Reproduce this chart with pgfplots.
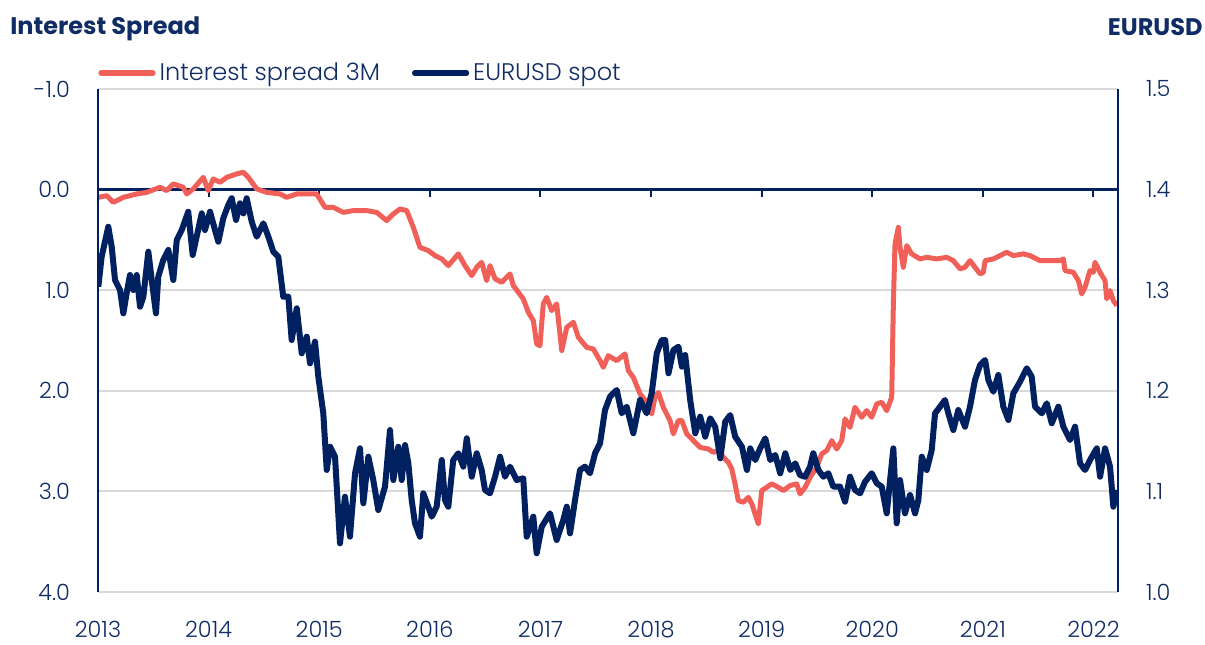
\documentclass[border=0pt]{standalone}
\usepackage{fontspec}
\usepackage{pgfplots}
\pgfplotsset{compat=1.18}
\newfontfamily\popreg{Poppins}
\IfFontExistsTF{Poppins Light}{\setmainfont{Poppins Light}}{\setmainfont{Poppins}}
\definecolor{navy}{RGB}{0,32,96}
\definecolor{txtnavy}{RGB}{16,44,100}
\definecolor{sred}{RGB}{240,96,88}
\definecolor{gridgray}{RGB}{217,217,217}
\begin{document}
\begin{tikzpicture}
\path[use as bounding box] (-49pt,-26pt) rectangle (553.5pt,296pt);
\begin{axis}[
  at={(0,0)}, anchor=south west, scale only axis,
  width=510pt, height=251.5pt,
  xmin=2013, xmax=2022.222, ymin=-1, ymax=4, y dir=reverse,
  xtick={2013,2014,2015,2016,2017,2018,2019,2020,2021,2022},
  xticklabels={2013,2014,2015,2016,2017,2018,2019,2020,2021,2022},
  ytick={-1,0,1,2,3,4},
  yticklabels={-1.0,0.0,1.0,2.0,3.0,4.0},
  major tick length=0pt,
  axis line style={draw=none},
  ymajorgrids, grid style={color=gridgray, line width=1pt},
  tick label style={font=\fontsize{11.2}{13}\selectfont, text=txtnavy},
  yticklabel style={xshift=-10.5pt},
  xticklabel style={yshift=-11pt},
  legend style={at={(0,1)}, anchor=west, yshift=8pt, xshift=0pt, draw=none, fill=none,
    inner sep=0pt, font=\fontsize{12}{14}\selectfont, text=txtnavy,
    /tikz/every even column/.append style={column sep=14pt}},
  legend columns=2, legend cell align=left,
  legend image code/.code={\draw[#1, line cap=round, line width=2.6pt] (0pt,0pt) -- (26pt,0pt);},
  clip=false,
]
\draw[navy, line width=1.2pt] (axis cs:2013,0) -- (axis cs:2022.222,0);
\pgfplotsinvokeforeach{2014,2015,2016,2017,2018,2019,2020,2021,2022}{
  \draw[navy, line width=1pt] (axis cs:#1,0) -- ([yshift=-3.5pt]axis cs:#1,0);
}
\addplot[sred, line width=2.5pt, line join=round] table {
2013.003 0.077
2013.079 0.060
2013.138 0.126
2013.229 0.077
2013.350 0.043
2013.440 0.027
2013.561 -0.023
2013.621 0.010
2013.681 -0.057
2013.771 -0.023
2013.802 0.043
2013.862 -0.007
2013.952 -0.122
2013.997 0.010
2014.042 -0.106
2014.103 -0.073
2014.164 -0.122
2014.254 -0.156
2014.314 -0.172
2014.359 -0.122
2014.435 -0.007
2014.525 0.027
2014.646 0.043
2014.706 0.077
2014.797 0.043
2014.917 0.043
2014.977 0.043
2015.052 0.176
2015.127 0.176
2015.218 0.226
2015.308 0.209
2015.429 0.209
2015.520 0.226
2015.610 0.308
2015.670 0.242
2015.731 0.192
2015.791 0.209
2015.851 0.375
2015.911 0.574
2015.986 0.606
2016.047 0.656
2016.108 0.689
2016.167 0.755
2016.258 0.639
2016.318 0.755
2016.379 0.855
2016.424 0.772
2016.469 0.723
2016.514 0.905
2016.544 0.755
2016.590 0.888
2016.650 0.921
2016.725 0.838
2016.755 0.954
2016.800 1.021
2016.845 1.086
2016.891 1.220
2016.936 1.302
2016.966 1.534
2016.996 1.551
2017.026 1.136
2017.057 1.071
2017.102 1.203
2017.147 1.136
2017.193 1.600
2017.238 1.369
2017.298 1.319
2017.343 1.468
2017.419 1.568
2017.478 1.584
2017.539 1.700
2017.569 1.766
2017.614 1.650
2017.690 1.700
2017.765 1.633
2017.795 1.799
2017.840 1.866
2017.901 2.031
2017.961 2.114
2018.006 2.230
2018.036 2.065
2018.066 2.015
2018.111 2.164
2018.172 2.296
2018.202 2.428
2018.247 2.296
2018.278 2.296
2018.323 2.428
2018.383 2.495
2018.444 2.562
2018.518 2.578
2018.563 2.611
2018.609 2.594
2018.654 2.661
2018.699 2.711
2018.730 2.776
2018.760 2.925
2018.789 3.091
2018.835 3.108
2018.880 3.059
2018.911 3.124
2018.941 3.224
2018.970 3.323
2019.001 2.992
2019.046 2.959
2019.091 2.925
2019.151 2.959
2019.196 2.992
2019.257 2.942
2019.317 2.925
2019.347 3.025
2019.393 2.959
2019.438 2.860
2019.498 2.760
2019.543 2.627
2019.589 2.594
2019.634 2.495
2019.679 2.578
2019.724 2.495
2019.754 2.279
2019.799 2.363
2019.844 2.164
2019.905 2.263
2019.950 2.197
2019.995 2.263
2020.041 2.130
2020.086 2.114
2020.131 2.197
2020.176 2.065
2020.191 1.136
2020.206 0.540
2020.236 0.375
2020.251 0.574
2020.281 0.772
2020.312 0.557
2020.357 0.639
2020.432 0.689
2020.493 0.673
2020.583 0.689
2020.674 0.673
2020.733 0.706
2020.794 0.788
2020.839 0.772
2020.884 0.706
2020.929 0.772
2020.975 0.838
2021.005 0.822
2021.020 0.706
2021.095 0.689
2021.156 0.656
2021.216 0.623
2021.276 0.656
2021.366 0.639
2021.427 0.656
2021.517 0.706
2021.608 0.706
2021.698 0.706
2021.728 0.689
2021.743 0.805
2021.818 0.822
2021.864 0.905
2021.894 1.037
2021.924 0.971
2021.969 0.805
2021.999 0.822
2022.014 0.723
2022.060 0.822
2022.105 0.905
2022.120 1.086
2022.150 1.004
2022.180 1.103
2022.211 1.153
};
\addlegendentry{Interest spread 3M}
\addlegendimage{navy}
\addlegendentry{EURUSD spot}
\draw[navy, line width=1.1pt] (rel axis cs:0,0) -- (rel axis cs:0,1);
\draw[navy, line width=1.1pt] (rel axis cs:1,0) -- (rel axis cs:1,1);
\end{axis}
\begin{axis}[
  at={(0,0)}, anchor=south west, scale only axis,
  width=510pt, height=251.5pt,
  xmin=2013, xmax=2022.222, ymin=1, ymax=1.5,
  xtick=\empty,
  ytick={1.0,1.1,1.2,1.3,1.4,1.5},
  yticklabels={1.0,1.1,1.2,1.3,1.4,1.5},
  yticklabel pos=right,
  major tick length=0pt,
  axis line style={draw=none},
  tick label style={font=\fontsize{11.2}{13}\selectfont, text=txtnavy},
  yticklabel style={xshift=10.5pt},
]
\addplot[navy, line width=3pt, line join=round] table {
2013.003 1.3035
2013.033 1.3333
2013.093 1.3631
2013.124 1.3432
2013.154 1.3101
2013.199 1.3002
2013.229 1.2770
2013.259 1.2969
2013.289 1.3151
2013.319 1.3002
2013.350 1.3151
2013.380 1.2836
2013.410 1.2935
2013.455 1.3383
2013.486 1.3101
2013.524 1.2770
2013.545 1.3134
2013.590 1.3300
2013.636 1.3400
2013.681 1.3101
2013.712 1.3499
2013.757 1.3598
2013.816 1.3780
2013.856 1.3350
2013.892 1.3532
2013.938 1.3764
2013.967 1.3598
2014.013 1.3780
2014.058 1.3598
2014.088 1.3482
2014.133 1.3715
2014.178 1.3847
2014.209 1.3914
2014.248 1.3698
2014.284 1.3864
2014.314 1.3764
2014.344 1.3914
2014.390 1.3681
2014.435 1.3532
2014.495 1.3665
2014.540 1.3532
2014.585 1.3383
2014.630 1.3333
2014.675 1.2935
2014.721 1.2935
2014.751 1.2505
2014.797 1.2820
2014.842 1.2373
2014.887 1.2538
2014.917 1.2273
2014.962 1.2488
2014.992 1.2140
2015.037 1.1776
2015.068 1.1213
2015.098 1.1444
2015.143 1.1345
2015.188 1.0484
2015.233 1.0947
2015.278 1.0550
2015.324 1.1180
2015.369 1.1428
2015.399 1.0882
2015.444 1.1345
2015.489 1.1113
2015.534 1.0815
2015.595 1.1047
2015.640 1.1610
2015.670 1.1113
2015.715 1.1444
2015.746 1.1113
2015.776 1.1461
2015.806 1.1279
2015.836 1.0915
2015.866 1.0683
2015.911 1.0550
2015.941 1.0981
2015.986 1.0848
2016.017 1.0749
2016.062 1.0848
2016.108 1.1312
2016.137 1.0915
2016.167 1.0848
2016.212 1.1312
2016.258 1.1379
2016.303 1.1246
2016.334 1.1528
2016.379 1.1146
2016.424 1.1379
2016.469 1.1213
2016.499 1.1014
2016.544 1.0981
2016.590 1.1146
2016.635 1.1345
2016.680 1.1146
2016.725 1.1246
2016.786 1.1113
2016.845 1.1130
2016.876 1.0550
2016.936 1.0749
2016.966 1.0385
2017.012 1.0649
2017.087 1.0782
2017.147 1.0517
2017.207 1.0716
2017.238 1.0848
2017.268 1.0583
2017.313 1.0915
2017.358 1.1213
2017.403 1.1246
2017.448 1.1180
2017.494 1.1379
2017.539 1.1478
2017.584 1.1809
2017.629 1.1941
2017.690 1.2008
2017.735 1.1776
2017.780 1.1842
2017.840 1.1578
2017.901 1.1909
2017.961 1.1776
2018.006 1.1975
2018.052 1.2373
2018.097 1.2505
2018.128 1.2505
2018.158 1.2174
2018.203 1.2406
2018.248 1.2438
2018.279 1.2240
2018.309 1.2356
2018.354 1.1909
2018.400 1.1578
2018.445 1.1743
2018.490 1.1544
2018.535 1.1727
2018.580 1.1643
2018.626 1.1329
2018.671 1.1693
2018.716 1.1759
2018.761 1.1544
2018.822 1.1444
2018.867 1.1213
2018.897 1.1428
2018.942 1.1312
2018.987 1.1428
2019.033 1.1528
2019.078 1.1312
2019.123 1.1362
2019.168 1.1180
2019.214 1.1379
2019.259 1.1213
2019.304 1.1279
2019.347 1.1163
2019.393 1.1146
2019.438 1.1246
2019.467 1.1379
2019.513 1.1213
2019.558 1.1146
2019.603 1.1180
2019.648 1.1047
2019.709 1.1047
2019.754 1.0898
2019.799 1.1146
2019.844 1.1014
2019.890 1.0981
2019.935 1.1096
2019.995 1.1180
2020.041 1.1081
2020.086 1.1047
2020.131 1.0782
2020.191 1.1428
2020.221 1.0683
2020.251 1.1113
2020.296 1.0782
2020.342 1.0964
2020.387 1.0782
2020.417 1.0915
2020.448 1.1345
2020.493 1.1213
2020.538 1.1412
2020.568 1.1776
2020.613 1.1842
2020.658 1.1909
2020.688 1.1776
2020.733 1.1610
2020.778 1.1809
2020.839 1.1643
2020.884 1.1842
2020.929 1.2107
2020.975 1.2256
2021.020 1.2306
2021.050 1.2107
2021.095 1.1991
2021.140 1.2157
2021.185 1.1842
2021.231 1.1710
2021.276 1.1975
2021.336 1.2090
2021.397 1.2224
2021.442 1.2140
2021.472 1.1842
2021.533 1.1776
2021.578 1.1876
2021.623 1.1677
2021.683 1.1842
2021.728 1.1643
2021.788 1.1511
2021.834 1.1643
2021.879 1.1279
2021.924 1.1213
2021.969 1.1312
2022.030 1.1428
2022.060 1.1146
2022.105 1.1428
2022.150 1.1246
2022.180 1.0848
2022.211 1.1014
};
\end{axis}
\node[anchor=west, font=\popreg\bfseries\fontsize{12}{14}\selectfont, text=txtnavy, inner sep=0pt] at (-44pt,281.5pt) {Interest Spread};
\node[anchor=east, font=\popreg\bfseries\fontsize{12}{14}\selectfont, text=txtnavy, inner sep=0pt] at (552.5pt,282.5pt) {EURUSD};
\end{tikzpicture}
\end{document}
